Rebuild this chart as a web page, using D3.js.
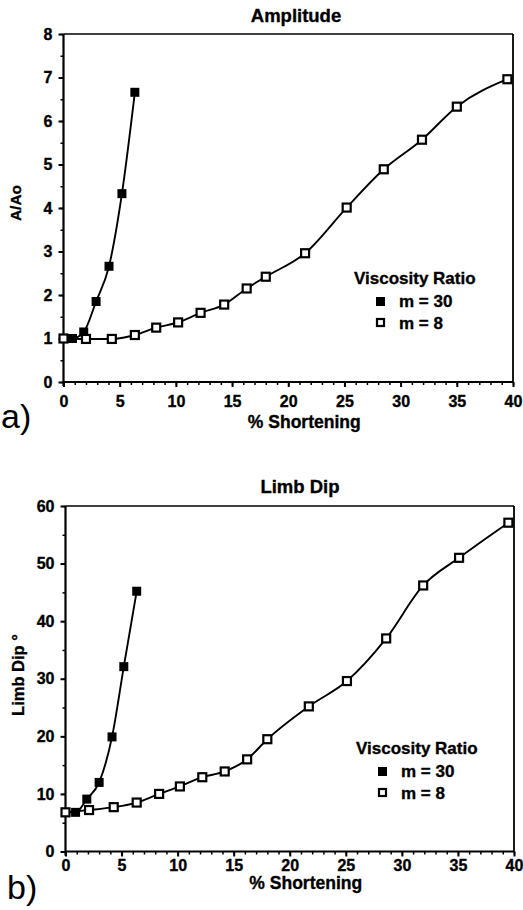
<!DOCTYPE html>
<html>
<head>
<meta charset="utf-8">
<script src="https://cdn.jsdelivr.net/npm/d3@7"></script>
<style>
  html, body { margin: 0; padding: 0; background: #fff; }
  svg text { font-family: "Liberation Sans", Arial, Helvetica, sans-serif; fill: #000; }
  svg text.heavy { font-weight: bold; stroke: #000; stroke-width: 0.35px; }
</style>
</head>
<body>
<svg id="fig" width="523" height="910"></svg>
<script>
// Panel a) Amplitude (A/Ao) versus % shortening
const ampM30X = [0, 0.8, 1.8, 2.9, 4.05, 5.2, 6.35];
const ampM30Y = [1.0, 1.0, 1.15, 1.85, 2.66, 4.33, 6.66];
const ampM8X  = [0, 2.0, 4.3, 6.35, 8.25, 10.2, 12.2, 14.3, 16.3, 18.0, 21.5, 25.2, 28.5, 31.9, 35.0, 39.5];
const ampM8Y  = [1.0, 0.99, 0.99, 1.08, 1.25, 1.37, 1.59, 1.78, 2.15, 2.42, 2.96, 4.01, 4.89, 5.57, 6.33, 6.96];

// Panel b) Limb dip (degrees) versus % shortening
const dipM30X = [0, 0.9, 1.9, 3.0, 4.15, 5.2, 6.35];
const dipM30Y = [6.8, 6.8, 9.1, 12.0, 19.9, 32.1, 45.2];
const dipM8X  = [0, 2.1, 4.3, 6.35, 8.35, 10.2, 12.2, 14.2, 16.2, 18.0, 21.7, 25.1, 28.6, 31.9, 35.1, 39.5];
const dipM8Y  = [6.8, 7.2, 7.7, 8.5, 10.0, 11.3, 12.9, 13.9, 16.0, 19.5, 25.2, 29.6, 37.0, 46.2, 51.0, 57.1];

const xTicks = [0, 5, 10, 15, 20, 25, 30, 35, 40];
const ampYTicks = [0, 1, 2, 3, 4, 5, 6, 7, 8];
const dipYTicks = [0, 10, 20, 30, 40, 50, 60];
const legendTitle = "Viscosity Ratio";
const legendLabels = ["m = 30", "m = 8"];

const svg = d3.select("#fig");

function zip(xs, ys) { return xs.map((x, i) => ({ x, y: ys[i] })); }

function panel(cfg) {
  const x = d3.scaleLinear().domain([0, 40]).range([cfg.left, cfg.right]);
  const y = d3.scaleLinear().domain(cfg.yDomain).range([cfg.bottom, cfg.top]);
  const g = svg.append("g");

  // frame: top and right edges
  g.append("line").attr("x1", cfg.left).attr("x2", cfg.right).attr("y1", cfg.top).attr("y2", cfg.top)
    .attr("stroke", "#000").attr("stroke-width", 1.6);
  g.append("line").attr("x1", cfg.right).attr("x2", cfg.right).attr("y1", cfg.top).attr("y2", cfg.bottom)
    .attr("stroke", "#000").attr("stroke-width", 1.8);

  // x axis: minor ticks each unit, labelled major ticks every 5
  const xAxis = g.append("g").attr("transform", `translate(0,${cfg.bottom})`)
    .call(d3.axisBottom(x).tickValues(d3.range(0, 41, 1)).tickSize(3).tickFormat(""));
  xAxis.select(".domain").remove();
  xAxis.selectAll(".tick line").attr("stroke-width", 1.5);
  const xMaj = g.append("g").attr("transform", `translate(0,${cfg.bottom})`)
    .call(d3.axisBottom(x).tickValues(xTicks).tickSize(5).tickPadding(cfg.xPad));
  xMaj.select(".domain").remove();
  xMaj.selectAll(".tick line").attr("stroke-width", 2);
  xMaj.selectAll("text").attr("class", "heavy").attr("font-size", 16);

  // y axis
  const yMinor = g.append("g").attr("transform", `translate(${cfg.left},0)`)
    .call(d3.axisLeft(y).tickValues(cfg.yMinor).tickSize(3).tickFormat(""));
  yMinor.select(".domain").remove();
  yMinor.selectAll(".tick line").attr("stroke-width", 1.5);
  const yMaj = g.append("g").attr("transform", `translate(${cfg.left},0)`)
    .call(d3.axisLeft(y).tickValues(cfg.yTicks).tickSize(5).tickPadding(6));
  yMaj.select(".domain").remove();
  yMaj.selectAll(".tick line").attr("stroke-width", 2);
  yMaj.selectAll("text").attr("class", "heavy").attr("font-size", 16);

  // heavy axis lines
  g.append("line").attr("x1", cfg.left).attr("x2", cfg.right).attr("y1", cfg.bottom).attr("y2", cfg.bottom)
    .attr("stroke", "#000").attr("stroke-width", 2.2);
  g.append("line").attr("x1", cfg.left).attr("x2", cfg.left).attr("y1", cfg.top).attr("y2", cfg.bottom + 4)
    .attr("stroke", "#000").attr("stroke-width", 2.2);

  // titles
  g.append("text").attr("class", "heavy").attr("x", cfg.titleX).attr("y", cfg.titleY).attr("text-anchor", "middle")
    .attr("font-size", 18.5).text(cfg.title);
  g.append("text").attr("class", "heavy").attr("x", (cfg.left + cfg.right) / 2 + 16).attr("y", cfg.xTitleY)
    .attr("text-anchor", "middle").attr("font-size", 17.5).text("% Shortening");
  g.append("text").attr("class", "heavy").attr("transform", `translate(${cfg.yTitleX},${cfg.yTitleY}) rotate(-90)`)
    .attr("text-anchor", "middle").attr("font-size", cfg.yTitleSize).text(cfg.yTitle);
  g.append("text").attr("x", cfg.tagX).attr("y", cfg.tagY).attr("font-size", 34).text(cfg.tag);

  // smooth curves through the measured points
  const curve = d3.line().x(d => x(d.x)).y(d => y(d.y)).curve(d3.curveMonotoneX);
  const s8 = zip(cfg.m8x, cfg.m8y);
  const s30 = zip(cfg.m30x, cfg.m30y);
  g.append("path").attr("d", curve(s8)).attr("fill", "none").attr("stroke", "#000").attr("stroke-width", 1.9);
  g.append("path").attr("d", curve(s30)).attr("fill", "none").attr("stroke", "#000").attr("stroke-width", 1.9);

  // markers
  const sz = 9;
  g.selectAll(".m30").data(s30).enter().append("rect")
    .attr("x", d => x(d.x) - sz / 2).attr("y", d => y(d.y) - sz / 2)
    .attr("width", sz).attr("height", sz).attr("fill", "#000");
  g.selectAll(".m8").data(s8).enter().append("rect")
    .attr("x", d => x(d.x) - 4).attr("y", d => y(d.y) - 4)
    .attr("width", 8).attr("height", 8).attr("fill", "#fff").attr("stroke", "#000").attr("stroke-width", 2.2);

  // legend
  const lg = g.append("g");
  lg.append("text").attr("class", "heavy").attr("x", cfg.legX).attr("y", cfg.legY).attr("font-size", 17).text(legendTitle);
  lg.append("rect").attr("x", cfg.legX + 22).attr("y", cfg.legY + 13).attr("width", 9).attr("height", 9).attr("fill", "#000");
  lg.append("rect").attr("x", cfg.legX + 23).attr("y", cfg.legY + 35).attr("width", 7).attr("height", 7)
    .attr("fill", "#fff").attr("stroke", "#000").attr("stroke-width", 2.2);
  lg.append("text").attr("class", "heavy").attr("x", cfg.legX + 45).attr("y", cfg.legY + 23).attr("font-size", 17).text(legendLabels[0]);
  lg.append("text").attr("class", "heavy").attr("x", cfg.legX + 45).attr("y", cfg.legY + 45).attr("font-size", 17).text(legendLabels[1]);
}

panel({
  left: 63.5, right: 513, top: 34, bottom: 382, yDomain: [0, 8],
  yTicks: ampYTicks, yMinor: d3.range(0, 8.01, 0.5), xPad: 9,
  title: "Amplitude", titleX: 296, titleY: 22,
  xTitleY: 428, yTitle: "A/Ao", yTitleX: 21, yTitleY: 203, yTitleSize: 15.5,
  tag: "a)", tagX: 1, tagY: 428,
  m30x: ampM30X, m30y: ampM30Y, m8x: ampM8X, m8y: ampM8Y,
  legX: 354, legY: 284
});

panel({
  left: 65.5, right: 514, top: 506, bottom: 851.5, yDomain: [0, 60],
  yTicks: dipYTicks, yMinor: d3.range(0, 60.01, 5), xPad: 3,
  title: "Limb Dip", titleX: 300, titleY: 493,
  xTitleY: 889, yTitle: "Limb Dip °", yTitleX: 24, yTitleY: 675, yTitleSize: 16.5,
  tag: "b)", tagX: 7, tagY: 899,
  m30x: dipM30X, m30y: dipM30Y, m8x: dipM8X, m8y: dipM8Y,
  legX: 356, legY: 754
});
</script>
</body>
</html>
